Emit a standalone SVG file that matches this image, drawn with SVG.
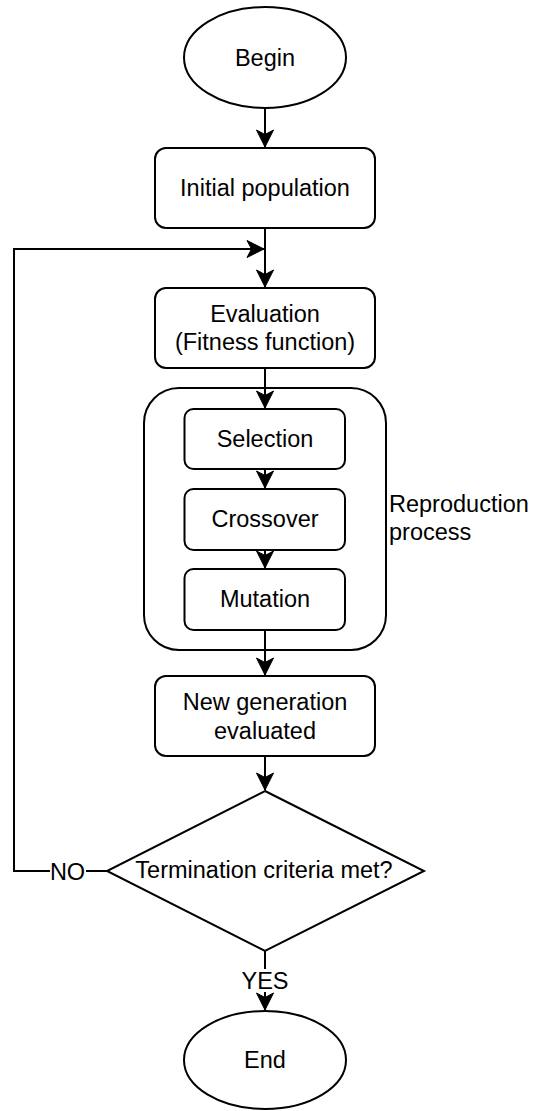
<svg xmlns="http://www.w3.org/2000/svg" width="533" height="1111" viewBox="0 0 533 1111">
<style>
.s{fill:#fff;stroke:#000;stroke-width:2}
.t{font-family:"Liberation Sans",Arial,sans-serif;font-size:23.5px;fill:#000;text-anchor:middle}
.c{fill:none;stroke:#000;stroke-width:2}
.lb{fill:#fff}
</style>
<defs>
<marker id="ah" markerUnits="userSpaceOnUse" markerWidth="20" markerHeight="20" viewBox="-18 -10 20 20" refX="0" refY="0" orient="auto">
<path d="M0,0 L-17,-8.5 L-12.5,0 L-17,8.5 Z" fill="#000" stroke="#000" stroke-width="1"/>
</marker>
</defs>
<rect width="533" height="1111" fill="#fff"/>
<g id="begin"><ellipse class="s" cx="265" cy="57.5" rx="81" ry="50.5"/><text class="t" x="265" y="65.5">Begin</text></g>
<g id="init"><rect class="s" x="155" y="148" width="220" height="80" rx="11"/><text class="t" x="265" y="196">Initial population</text></g>
<g id="eval"><rect class="s" x="155" y="288" width="220" height="80" rx="11"/><text class="t" x="265" y="321.5">Evaluation</text><text class="t" x="265" y="350">(Fitness function)</text></g>
<g id="reproduction"><rect class="s" x="144" y="388" width="242" height="262" rx="35"/><text class="t" x="389" y="511.5" style="text-anchor:start">Reproduction</text><text class="t" x="389" y="540" style="text-anchor:start">process</text></g>
<g id="selection"><rect class="s" x="184.5" y="409" width="160.5" height="60" rx="9"/><text class="t" x="265" y="447">Selection</text></g>
<g id="crossover"><rect class="s" x="184.5" y="489" width="160.5" height="61" rx="9"/><text class="t" x="265" y="527">Crossover</text></g>
<g id="mutation"><rect class="s" x="184.5" y="569" width="160.5" height="61" rx="9"/><text class="t" x="265" y="607">Mutation</text></g>
<g id="newgen"><rect class="s" x="155" y="676" width="220" height="80" rx="11"/><text class="t" x="265" y="710">New generation</text><text class="t" x="265" y="738.5">evaluated</text></g>
<g id="decision"><polygon class="s" points="265,791 424,871 265,951 107,871"/><text class="t" x="264" y="877.5">Termination criteria met?</text></g>
<g id="end"><ellipse class="s" cx="265" cy="1060" rx="81" ry="49"/><text class="t" x="265" y="1068">End</text></g>
<g id="connectors">
<line class="c" x1="265" y1="108" x2="265" y2="147" marker-end="url(#ah)"/>
<line class="c" x1="265" y1="228" x2="265" y2="287" marker-end="url(#ah)"/>
<polyline class="c" points="107,871 14,871 14,249 264,249" marker-end="url(#ah)"/>
<line class="c" x1="265" y1="368" x2="265" y2="408" marker-end="url(#ah)"/>
<line class="c" x1="265" y1="469" x2="265" y2="488" marker-end="url(#ah)"/>
<line class="c" x1="265" y1="550" x2="265" y2="568" marker-end="url(#ah)"/>
<line class="c" x1="265" y1="630" x2="265" y2="675" marker-end="url(#ah)"/>
<line class="c" x1="265" y1="756" x2="265" y2="790" marker-end="url(#ah)"/>
<line class="c" x1="265" y1="951" x2="265" y2="1010" marker-end="url(#ah)"/>
<rect class="lb" x="50" y="860" width="36" height="22"/>
<text class="t" x="67.5" y="879.5">NO</text>
<rect class="lb" x="241" y="969" width="48" height="23"/>
<text class="t" x="265" y="988.5">YES</text>
</g>
</svg>
